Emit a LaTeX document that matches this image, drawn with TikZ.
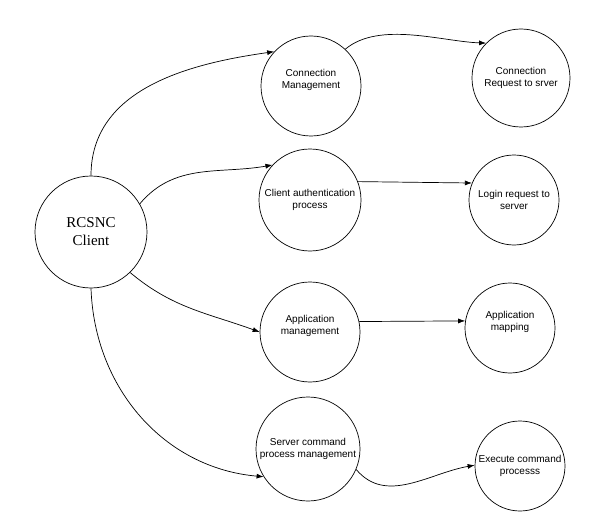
\documentclass[tikz,border=0pt]{standalone}
\usepackage{fontspec}
\setmainfont{Liberation Sans}
\newfontfamily\clientfont{Liberation Serif}
\usetikzlibrary{positioning}
\usetikzlibrary{arrows.meta}
\tikzset{
  % A process bubble
  proc/.style={
    draw=black, circle, line width=0.7pt, align=center,
    font=\fontsize{10}{12}\selectfont, inner sep=0pt, minimum size=#1},
  % The client bubble on the left
  clientproc/.style={
    draw=black, circle, line width=0.7pt, align=center,
    font=\clientfont\fontsize{15}{18}\selectfont, inner sep=0pt, minimum size=112pt},
  % Text sitting a little above the middle
  lifted/.style={text depth=14pt},
  % Flows
  calls/.style={-{Latex[length=7pt,width=5pt]}, draw=black, line width=0.7pt},
}

\begin{document}
\begin{tikzpicture}[node distance=200pt, on grid]

  \node[clientproc] (client) {RCSNC\\Client};
  \useasboundingbox ([shift={(-91pt,232pt)}]client.center) rectangle ++(595pt,-517pt);

  \node[proc=100pt, lifted, above right=146pt and 220pt of client] (conn)   {Connection\\Management};
  \node[proc=102pt, above right=32pt and 219pt of client]          (auth)   {Client authentication\\process};
  \node[proc=100pt, lifted, below right=100pt and 219pt of client] (appm)   {Application\\management};
  \node[proc=104pt, below right=217pt and 217pt of client]         (srvcmd) {Server command\\process management};

  \node[proc=98pt, above right=8pt and 210pt of conn]              (connreq) {Connection\\Request to srver};
  \node[proc=90pt, right=204pt of auth]                            (login)   {Login request to\\server};
  \node[proc=90pt, lifted, above right=4pt and 200pt of appm]      (appmap)  {Application\\mapping};
  \node[proc=90pt, below right=17pt and 212pt of srvcmd]           (exec)    {Execute command\\processs};

  \draw[calls] (client.north) to[out=90, in=188]  (conn.137);
  \draw[calls] (client.30)    to[out=50, in=190]  (auth.137);
  \draw[calls] (client.-46)   to[out=-40, in=160] (appm.west);
  \draw[calls] (client.south) to[out=-88, in=175] (srvcmd.212);

  \draw[calls] (conn.47)    to[out=40, in=178, looseness=0.8] (connreq.135);
  \draw[calls] (auth.21)    -- (login.158);
  \draw[calls] (appm.12)    -- (appmap.171);
  \draw[calls] (srvcmd.-23) to[out=-50, in=190] (exec.179);

\end{tikzpicture}
\end{document}
